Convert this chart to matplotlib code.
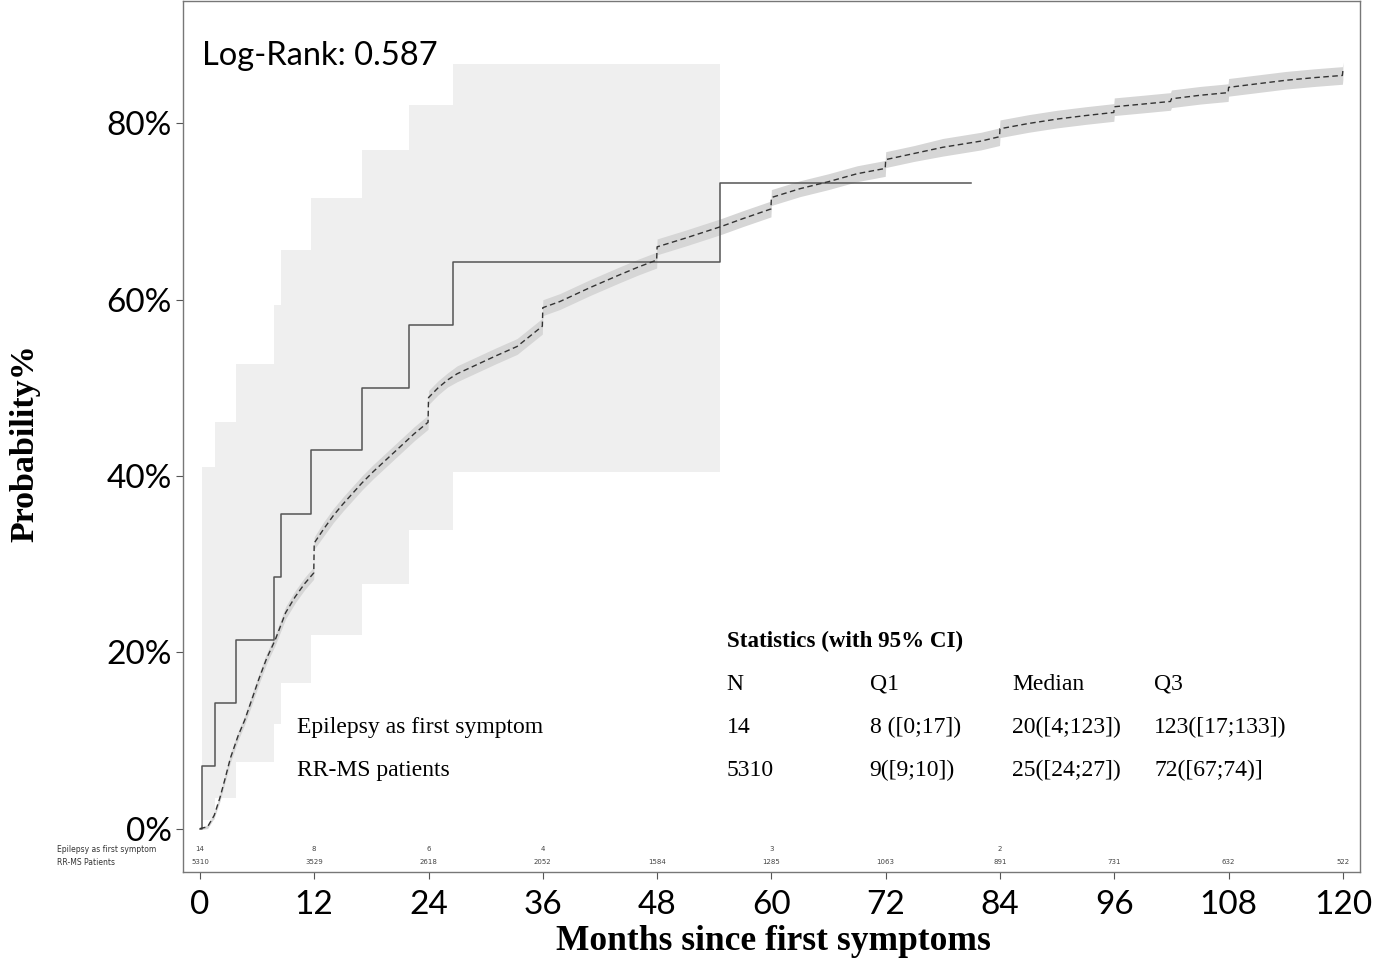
import matplotlib
matplotlib.use("Agg")
import matplotlib.pyplot as plt
import numpy as np
from matplotlib.ticker import FuncFormatter

# Epilepsy as first symptom: Kaplan-Meier style step curve (percent)
EPI_TIMES = [0, 0.2, 1.6, 3.8, 7.8, 8.5, 11.7, 17.0, 22.0, 26.6, 54.6, 81.0]
EPI_PROB = [0, 7.1, 14.3, 21.4, 28.6, 35.7, 42.9, 50.0, 57.1, 64.3, 73.2, 73.2]

# Epilepsy 95% CI band
EPI_CI_T = [0.2, 1.6, 3.8, 7.8, 8.5, 11.7, 17.0, 22.0, 26.6, 54.6]
EPI_CI_LO = [1.0, 3.5, 7.5, 11.9, 16.5, 22.0, 27.7, 33.9, 40.5, 40.5]
EPI_CI_HI = [41.0, 46.1, 52.7, 59.4, 65.7, 71.5, 77.0, 82.1, 86.8, 86.8]

# RR-MS patients curve (percent)
RR_T = [0, 0.8, 1.5, 2.1, 2.6, 3.2, 4.0, 4.7, 5.5, 6.2, 7.0, 7.9, 9.0, 10.0, 11.0,
        11.95, 12.0, 13.0, 14.0, 15.0, 16.0, 17.0, 18.2, 19.5, 21.0, 22.5, 23.95,
        24.0, 25.0, 26.0, 27.0, 29.0, 31.0, 33.3, 35.95, 36.0, 37.8, 41.0, 44.0,
        46.0, 47.95, 48.0, 51.0, 54.7, 57.0, 59.95, 60.0, 63.0, 66.0, 69.0, 71.95,
        72.0, 75.0, 78.0, 82.0, 83.95, 84.0, 87.0, 90.0, 93.0, 95.95, 96.0, 99.0,
        101.9, 102.0, 105.0, 107.95, 108.0, 111.0, 114.0, 117.0, 119.95, 120.0]
RR_P = [0, 0.2, 1.5, 3.5, 5.5, 8.0, 10.5, 12.3, 14.8, 17.0, 19.3, 21.4, 24.5, 26.3, 27.8,
        29.0, 32.4, 34.0, 35.5, 36.8, 38.0, 39.2, 40.5, 41.8, 43.3, 44.8, 46.1,
        48.9, 50.0, 50.9, 51.6, 52.6, 53.6, 54.7, 57.0, 59.1, 59.8, 61.4, 62.8,
        63.7, 64.5, 66.0, 67.0, 68.3, 69.2, 70.3, 71.6, 72.6, 73.4, 74.3, 74.9,
        75.9, 76.6, 77.3, 78.0, 78.5, 79.4, 80.0, 80.5, 80.9, 81.25, 81.9, 82.2,
        82.5, 82.8, 83.2, 83.5, 84.1, 84.5, 84.9, 85.2, 85.45, 86.0]
RR_HALF = [0.1, 0.2, 0.3, 0.4, 0.4, 0.5, 0.5, 0.5, 0.6, 0.6, 0.6, 0.6, 0.7, 0.7, 0.7,
           0.7, 0.7, 0.8, 0.8, 0.8, 0.8, 0.8, 0.8, 0.8, 0.8, 0.8, 0.8,
           0.8, 0.8, 0.8, 0.9, 0.9, 0.9, 0.9, 0.9, 0.9, 0.9, 0.9, 0.9,
           0.9, 0.9, 0.9, 0.9, 0.9, 0.9, 0.9, 0.9, 0.9, 0.9, 0.9, 0.9,
           0.9, 0.9, 1.0, 1.0, 1.0, 1.0, 1.0, 1.0, 1.0, 1.0, 1.0, 1.0,
           1.0, 1.0, 1.0, 1.0, 1.0, 1.0, 1.0, 1.0, 1.0, 1.0]

# Numbers at risk
RISK_MONTHS = [0, 12, 24, 36, 48, 60, 72, 84, 96, 108, 120]
RISK_EPI = ["14", "8", "6", "4", "", "3", "", "2", "", "", ""]
RISK_RR = ["5310", "3529", "2618", "2052", "1584", "1285", "1063", "891", "731", "632", "522"]

# Statistics table
STAT_GROUPS = ["Epilepsy as first symptom", "RR-MS patients"]
STAT_HEADERS = ["N", "Q1", "Median", "Q3"]
STAT_EPI = ["14", "8 ([0;17])", "20([4;123])", "123([17;133])"]
STAT_RR = ["5310", "9([9;10])", "25([24;27])", "72([67;74)]"]

SANS = "Lato"
SERIF = "Liberation Serif"

fig = plt.figure(figsize=(13.82, 9.64), dpi=100)
ax = fig.add_axes([0.1324, 0.0954, 0.8517, 0.9036])

ax.fill_between(EPI_CI_T, EPI_CI_LO, EPI_CI_HI, step="post", color="#efefef",
                linewidth=0, zorder=1)
rr_t = np.array(RR_T)
rr_p = np.array(RR_P)
rr_h = np.array(RR_HALF)
ax.fill_between(rr_t, rr_p - rr_h, rr_p + rr_h, color="#d6d6d6", linewidth=0, zorder=2)
ax.plot(EPI_TIMES, EPI_PROB, drawstyle="steps-post", color="#555555", lw=1.1, zorder=3)
ax.plot(rr_t, rr_p, color="#333333", lw=1.0, dashes=(4, 2.5), zorder=4)

ax.set_xlim(-1.78, 121.8)
ax.set_ylim(-4.93, 93.9)
ax.set_xticks(RISK_MONTHS)
ax.set_yticks([0, 20, 40, 60, 80])
ax.yaxis.set_major_formatter(FuncFormatter(lambda v, _: f"{v:.0f}%"))
for lab in ax.get_xticklabels() + ax.get_yticklabels():
    lab.set_fontfamily(SANS)
ax.tick_params(axis="x", labelsize=24, length=5, color="#555555", pad=8)
ax.tick_params(axis="y", labelsize=24, length=5, color="#555555", pad=3)
for sp in ax.spines.values():
    sp.set_color("#777777")
    sp.set_linewidth(1.0)

# axis titles placed in figure coordinates
fig.text(773 / 1382, 1 - 941 / 964, "Months since first symptoms", family=SERIF,
         fontweight="bold", fontsize=25.5, ha="center", va="center")
fig.text(25 / 1382, 1 - 443 / 964, "Probability%", family=SERIF, fontweight="bold",
         fontsize=24.5, rotation=90, ha="center", va="center")

ax.text(0.2, 87.7, "Log-Rank: 0.587", family=SANS, fontsize=23.5, ha="left", va="center")

# numbers at risk
for m, e, r in zip(RISK_MONTHS, RISK_EPI, RISK_RR):
    ax.text(m, -2.35, e, fontsize=5, ha="center", va="center", color="#444444")
    ax.text(m, -3.8, r, fontsize=5, ha="center", va="center", color="#444444")
ax.text(-15.0, -2.35, "Epilepsy as first symptom", fontsize=5.5, ha="left", va="center",
        color="#333333", clip_on=False)
ax.text(-15.0, -3.8, "RR-MS Patients", fontsize=5.5, ha="left", va="center",
        color="#333333", clip_on=False)

# statistics table
col_x = [55.3, 70.3, 85.3, 100.2]
ax.text(55.3, 21.2, "Statistics (with 95% CI)", family=SERIF, fontweight="bold",
        fontsize=16.6, ha="left", va="center")
for cx, h in zip(col_x, STAT_HEADERS):
    ax.text(cx, 16.4, h, family=SERIF, fontsize=17, ha="left", va="center")
for ry, grp, vals in zip([11.5, 6.6], STAT_GROUPS, [STAT_EPI, STAT_RR]):
    ax.text(10.2, ry, grp, family=SERIF, fontsize=17, ha="left", va="center")
    for cx, v in zip(col_x, vals):
        ax.text(cx, ry, v, family=SERIF, fontsize=17, ha="left", va="center")

fig.savefig("out.png", dpi=100)
